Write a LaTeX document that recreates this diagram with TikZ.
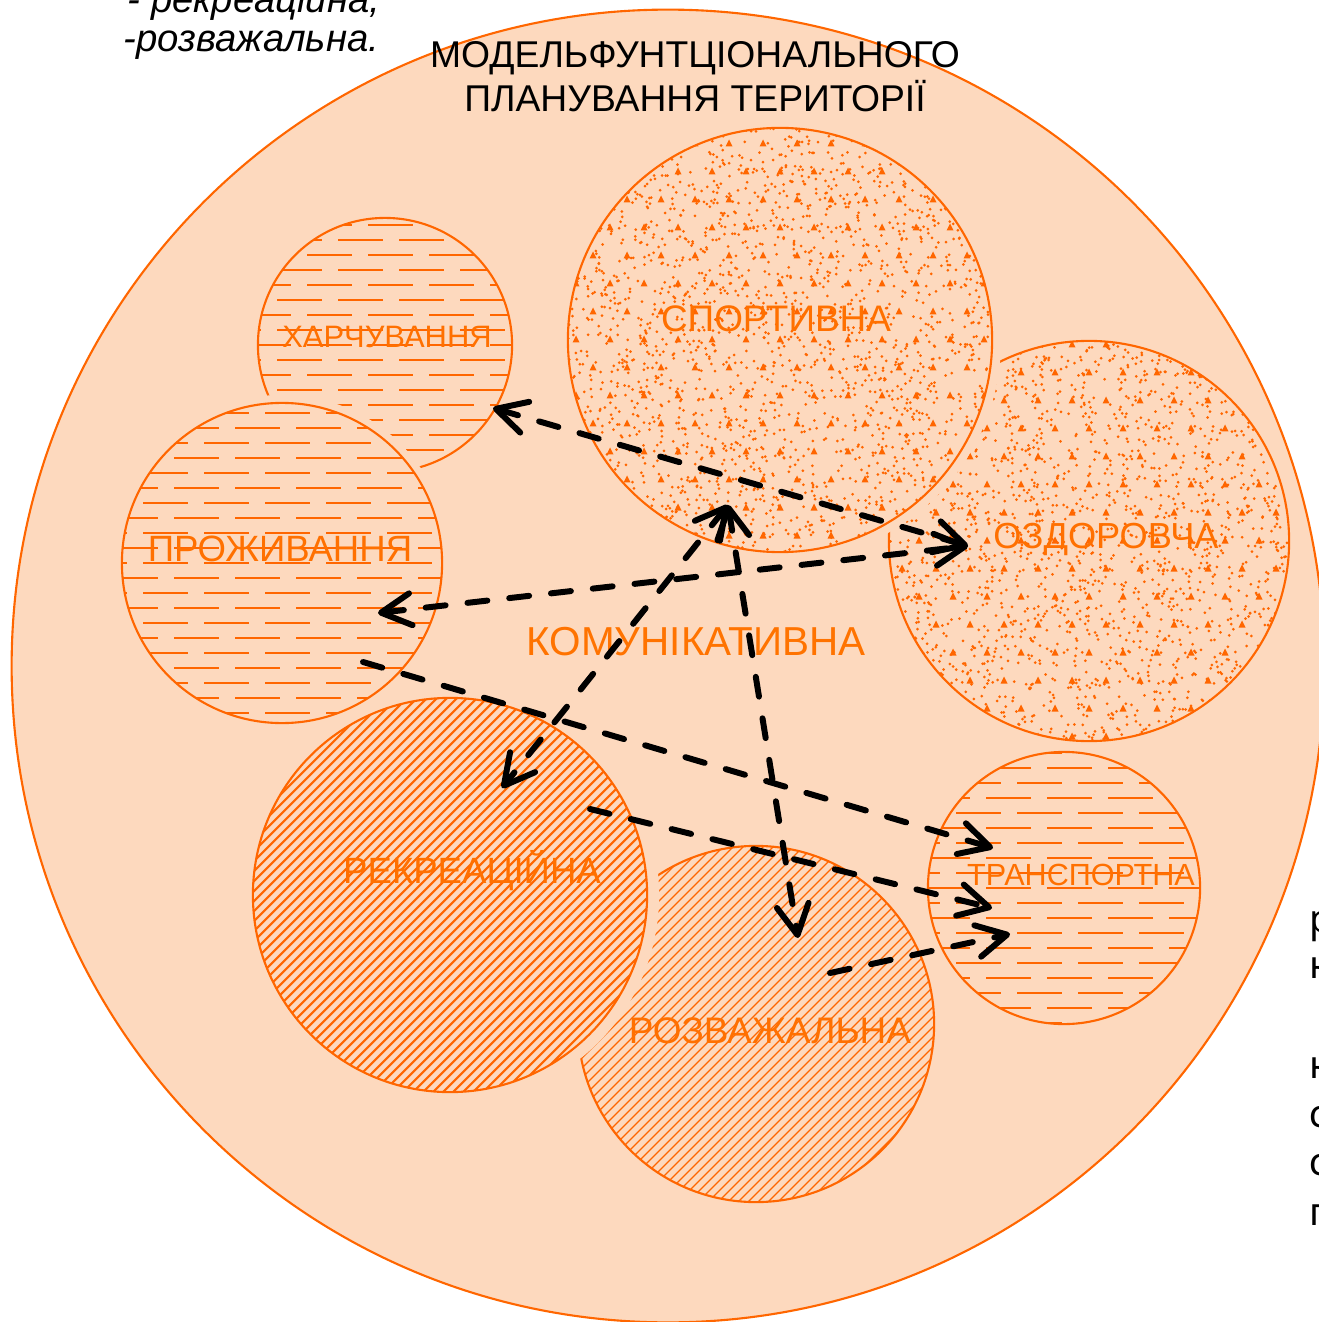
\documentclass[tikz,border=0pt]{standalone}
\usepackage{fontspec}
\setmainfont{Liberation Sans}
\newfontfamily\notosans{Noto Sans}
\usetikzlibrary{arrows.meta}

\definecolor{peach}{HTML}{FDD9BE}
\definecolor{zoneline}{HTML}{FF6600}
\definecolor{zonetext}{HTML}{FF7000}

\tikzset{
  zone/.style={circle, draw=zoneline, fill=peach, line width=0.6pt, inner sep=0pt},
  cutout/.style={preaction={draw=peach, line width=#1}},
  % horizontal broken lines
  hlines/.style={path picture={
    \begin{scope}[shift={(path picture bounding box.center)}, zoneline, line width=0.45pt, dash pattern=on 0.45cm off 0.16cm]
      \foreach \y in {-180,-150,...,180} \draw (-200,\y) -- (220,\y);
      \foreach \y in {-165,-135,...,180} \draw (-230,\y) -- (220,\y);
    \end{scope}}},
  % diagonal hatching
  hatch/.style={path picture={
    \begin{scope}[shift={(path picture bounding box.center)}, zoneline, line width=#1]
      \foreach \k in {-420,-410,...,420} \draw (\k-210,210) -- (\k+210,-210);
    \end{scope}}},
  % dots and small triangles
  speckle/.style={path picture={
    \begin{scope}[shift={(path picture bounding box.center)}, zoneline]
      \pgfmathsetseed{#1}
      \foreach \i in {1,...,2400} \fill (rand*215,rand*215) circle (1.5);
      \foreach \gx in {-7,...,7} \foreach \gy in {-8,...,8}
        \fill ({\gx*34+mod(\gy+20,2)*17},\gy*28) +(-3.5,2.5) -- +(0,-4.5) -- +(3.5,2.5) -- cycle;
    \end{scope}}},
  zonelabel/.style={text=zonetext, anchor=base, inner sep=0pt},
  flow/.style={line width=1.7pt, dash pattern=on 0.2cm off 0.22cm, line cap=round, line join=round,
    -{Straight Barb[round, length=0.3cm, width=0.32cm]}},
  twoway/.style={flow, {Straight Barb[round, length=0.3cm, width=0.32cm]}-{Straight Barb[round, length=0.3cm, width=0.32cm]}},
}

\begin{document}
\begin{tikzpicture}[x=0.01cm, y=-0.01cm]
\useasboundingbox (0,0) rectangle (1319,1322);
\clip (0,0) rectangle (1319,1322);

% territory
\node[zone, minimum size=13.12cm] (model) at (668,666) {};
\node[anchor=base, inner sep=0pt, font=\fontsize{10.6}{12}\selectfont] (title-a) at (695,68) {МОДЕЛЬФУНТЦІОНАЛЬНОГО};
\node[anchor=base, inner sep=0pt, font=\fontsize{10.6}{12}\selectfont] (title-b) at (695,112) {ПЛАНУВАННЯ ТЕРИТОРІЇ};

% zones
\node[zone, speckle=3, minimum size=4.0cm] (ozd) at (1089,541) {};
\node[zone, speckle=5, cutout=0.18cm, minimum size=4.24cm] (spor) at (780,340) {};
\node[zone, hlines, minimum size=2.54cm] (harch) at (385,345) {};
\node[zone, hlines, cutout=0.16cm, minimum size=3.2cm] (proj) at (282,563) {};
\node[zone, hatch=0.35pt, minimum size=3.56cm] (rozv) at (756,1024) {};
\node[zone, hatch=0.6pt, cutout=0.24cm, minimum size=3.94cm] (rekr) at (450,895) {};
\node[zone, hlines, minimum size=2.72cm] (transp) at (1064,888) {};

\node[zonelabel, font=\fontsize{8.8}{10}\selectfont] (harch-t) at (387,348) {ХАРЧУВАННЯ};
\node[zonelabel, font=\fontsize{10.5}{12}\selectfont] (spor-t) at (776,332) {СПОРТИВНА};
\node[zonelabel, font=\fontsize{10.4}{12}\selectfont] (proj-t) at (280,561) {ПРОЖИВАННЯ};
\node[zonelabel, font=\fontsize{10.3}{12}\selectfont] (ozd-t) at (1106,548) {ОЗДОРОВЧА};
\node[zonelabel, font=\fontsize{11.5}{13}\selectfont, text=orange!90!red] (komun-t) at (696,655) {КОМУНІКАТИВНА};
\node[zonelabel, font=\fontsize{10.4}{12}\selectfont] (rekr-t) at (472,883) {РЕКРЕАЦІЙНА};
\node[zonelabel, font=\fontsize{10.5}{12}\selectfont] (rozv-t) at (770,1043) {РОЗВАЖАЛЬНА};
\node[zonelabel, font=\fontsize{8.7}{10}\selectfont] (transp-t) at (1081,885) {ТРАНСПОРТНА};

% links
\coordinate (harch-in) at (493,408);
\coordinate (ozd-in) at (968,546);
\coordinate (proj-in) at (378,613);
\coordinate (spor-in) at (728,505);
\coordinate (rozv-in) at (798,938);
\coordinate (rekr-in) at (502,788);
\coordinate (proj-out) at (363,662);
\coordinate (rekr-out) at (590,809);
\coordinate (rozv-out) at (830,973);
\coordinate (transp-a) at (993,848);
\coordinate (transp-b) at (992,908);
\coordinate (transp-c) at (1010,934);

\draw[twoway] (harch-in) -- (ozd-in);
\draw[twoway] (proj-in) -- (ozd-in);
\draw[twoway] (spor-in) -- (rekr-in);
\draw[twoway] (spor-in) -- (rozv-in);
\draw[flow] (proj-out) -- (transp-a);
\draw[flow] (rekr-out) -- (transp-b);
\draw[flow] (rozv-out) -- (transp-c);

% text around
\node[anchor=base west, inner sep=0pt, font=\itshape\fontsize{10.9}{13}\selectfont] (note-a) at (127,13) {- рекреаційна,};
\node[anchor=base west, inner sep=0pt, font=\itshape\fontsize{10.9}{13}\selectfont] (note-b) at (123,52) {-розважальна.};

\node[anchor=base west, inner sep=0pt, font=\notosans\fontsize{11}{13}\selectfont] (side-a) at (1309,932) {р};
\node[anchor=base west, inner sep=0pt, font=\notosans\fontsize{11}{13}\selectfont] (side-b) at (1309,978) {к};
\node[anchor=base west, inner sep=0pt, font=\notosans\fontsize{11}{13}\selectfont] (side-c) at (1309,1078) {к};
\node[anchor=base west, inner sep=0pt, font=\notosans\fontsize{11}{13}\selectfont] (side-d) at (1309,1127) {с};
\node[anchor=base west, inner sep=0pt, font=\notosans\fontsize{11}{13}\selectfont] (side-e) at (1309,1175) {с};
\node[anchor=base west, inner sep=0pt, font=\notosans\fontsize{11}{13}\selectfont] (side-f) at (1309,1225) {п};
\end{tikzpicture}
\end{document}
